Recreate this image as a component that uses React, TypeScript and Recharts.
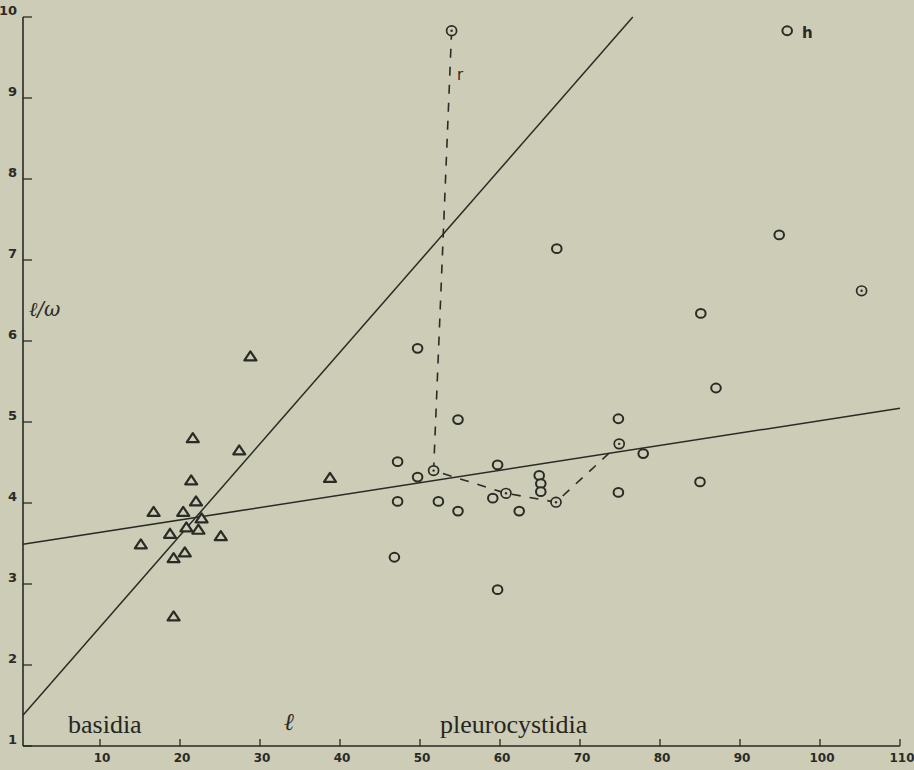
import { ScatterChart, Scatter, XAxis, YAxis } from "recharts";

// l (length) and l/w values
const basidiaL = [28.8, 21.6, 27.4, 21.4, 22.0, 16.7, 20.4, 22.7, 20.8, 22.3, 18.75, 25.1, 15.1, 20.6, 19.2, 19.2, 38.75];
const basidiaRatio = [5.81, 4.8, 4.65, 4.28, 4.02, 3.89, 3.89, 3.81, 3.7, 3.67, 3.62, 3.59, 3.49, 3.39, 3.32, 2.6, 4.31];

const cystL = [49.7, 54.75, 87.0, 74.8, 77.9, 47.2, 59.7, 49.7, 64.9, 65.1, 65.1, 74.8, 85.0, 47.2, 52.3, 59.1, 54.75, 62.4, 46.8, 59.7, 95.9, 94.9, 85.1, 67.1];
const cystRatio = [5.91, 5.03, 5.42, 5.04, 4.61, 4.51, 4.47, 4.32, 4.34, 4.24, 4.14, 4.13, 4.26, 4.02, 4.02, 4.06, 3.9, 3.9, 3.33, 2.93, 9.83, 7.31, 6.34, 7.14];

// dotted circles
const markedL = [53.95, 51.7, 60.75, 67.0, 74.9, 105.2];
const markedRatio = [9.83, 4.4, 4.12, 4.01, 4.73, 6.62];

// dashed path joining the marked series
const pathL = [53.95, 51.7, 60.75, 67.0, 74.9];
const pathRatio = [9.83, 4.4, 4.12, 4.01, 4.73];

// fitted lines
const steepL = [0.375, 76.6];
const steepRatio = [1.38, 10];
const flatL = [0.375, 110];
const flatRatio = [3.49, 5.17];

const xTicks = [10, 20, 30, 40, 50, 60, 70, 80, 90, 100, 110];
const yTicks = [1, 2, 3, 4, 5, 6, 7, 8, 9, 10];

const zip = (xs: number[], ys: number[]) => xs.map((x, i) => ({ x, y: ys[i] }));

const BG = "#cdccb6";
const INK = "#2a2a26";

const XTick = (p: any) => (
  <g>
    <line x1={p.x} y1={p.y} x2={p.x} y2={p.y - 7} stroke={INK} strokeWidth={1.3} />
    <text x={p.x + 2} y={p.y + 16} textAnchor="middle" fontSize={12} fontWeight={600} fontFamily="DejaVu Sans" fill={INK}>
      {p.payload.value}
    </text>
  </g>
);

const YTick = (p: any) => (
  <g>
    <line x1={p.x} y1={p.y} x2={p.x + 9} y2={p.y} stroke={INK} strokeWidth={1.3} />
    <text x={p.x - 6} y={p.y - 2} textAnchor="end" fontSize={13} fontWeight={600} fontFamily="DejaVu Sans" fill={INK}>
      {p.payload.value}
    </text>
  </g>
);

const Triangle = (p: any) => (
  <path
    d={`M${p.cx},${p.cy - 5} L${p.cx + 6},${p.cy + 4} L${p.cx - 6},${p.cy + 4} Z`}
    fill={BG}
    stroke={INK}
    strokeWidth={2.2}
    strokeLinejoin="round"
  />
);

const Ring = (p: any) => (
  <ellipse cx={p.cx} cy={p.cy} rx={4.8} ry={4.4} fill={BG} stroke={INK} strokeWidth={2} />
);

const DotRing = (p: any) => (
  <g>
    <ellipse cx={p.cx} cy={p.cy} rx={5} ry={4.8} fill={BG} stroke={INK} strokeWidth={1.7} />
    <circle cx={p.cx} cy={p.cy} r={1.2} fill={INK} />
  </g>
);

const NoShape = () => <g />;

export default function App() {
  return (
    <div style={{ position: "absolute", left: 0, top: 0, width: 914, height: 770, background: BG }}>
      <ScatterChart width={914} height={770} margin={{ top: 17, right: 14, bottom: 0, left: 0 }}>
        <XAxis
          type="number"
          dataKey="x"
          domain={[0.375, 110]}
          ticks={xTicks}
          tick={XTick}
          tickLine={false}
          tickSize={0}
          tickMargin={0}
          height={24}
          axisLine={{ stroke: INK, strokeWidth: 1.6 }}
        />
        <YAxis
          type="number"
          dataKey="y"
          domain={[1, 10]}
          ticks={yTicks}
          tick={YTick}
          tickLine={false}
          tickSize={0}
          tickMargin={0}
          width={23}
          axisLine={{ stroke: INK, strokeWidth: 1.6 }}
        />
        <Scatter data={zip(steepL, steepRatio)} line={{ stroke: INK, strokeWidth: 1.5 }} shape={NoShape} isAnimationActive={false} />
        <Scatter data={zip(flatL, flatRatio)} line={{ stroke: INK, strokeWidth: 1.5 }} shape={NoShape} isAnimationActive={false} />
        <Scatter
          data={zip(pathL, pathRatio)}
          line={{ stroke: INK, strokeWidth: 1.6, strokeDasharray: "9 9" }}
          shape={NoShape}
          isAnimationActive={false}
        />
        <Scatter data={zip(basidiaL, basidiaRatio)} shape={Triangle} isAnimationActive={false} />
        <Scatter data={zip(cystL, cystRatio)} shape={Ring} isAnimationActive={false} />
        <Scatter data={zip(markedL, markedRatio)} shape={DotRing} isAnimationActive={false} />
      </ScatterChart>
      <svg width={914} height={770} style={{ position: "absolute", left: 0, top: 0, pointerEvents: "none" }}>
        <text x={68} y={733} fontSize={26} fontFamily="Liberation Serif" fill="#262622">basidia</text>
        <text x={440} y={733} fontSize={26} fontFamily="Liberation Serif" fill="#262622">pleurocystidia</text>
        <text x={284} y={730} fontSize={24} fontFamily="DejaVu Serif" fontStyle="italic" fill={INK}>ℓ</text>
        <text x={29} y={316} fontSize={20} fontFamily="DejaVu Serif" fontStyle="italic" fill={INK}>ℓ/ω</text>
        <text x={457} y={80} fontSize={15} fontFamily="DejaVu Sans" fill={INK}>r</text>
        <text x={802} y={38} fontSize={15} fontFamily="DejaVu Sans" fontWeight="bold" fill={INK}>h</text>
      </svg>
    </div>
  );
}
